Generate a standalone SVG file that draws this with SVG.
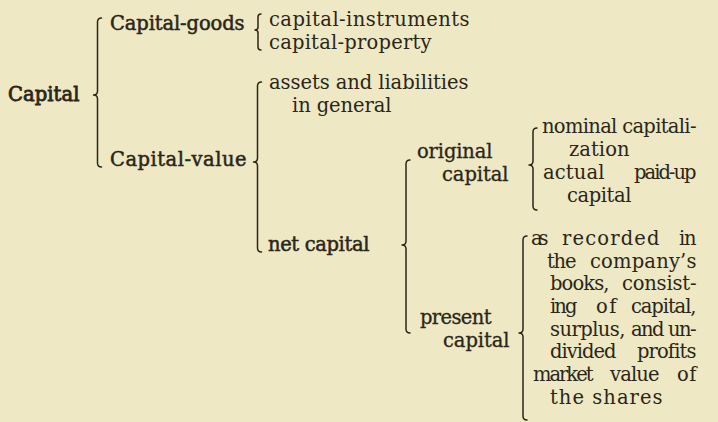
<svg xmlns="http://www.w3.org/2000/svg" width="718" height="422" viewBox="0 0 718 422">
<style>
  text { font-family: "DejaVu Serif", "Liberation Serif", serif; font-size: 19.5px; fill: #2b2619; letter-spacing: 0.5px; }
  .b { stroke: #2b2619; stroke-width: 0.5px; }
  .bb { stroke: #2b2619; stroke-width: 0.8px; }
  .m { stroke: #2b2619; stroke-width: 0.3px; }
  .brace { fill: none; stroke: #2b2619; stroke-width: 1.5; stroke-linecap: round; stroke-linejoin: round; }
</style>
<rect x="0" y="0" width="718" height="422" fill="#EEE8C4"/>
<g id="connectors">
  <path class="brace" d="M101.5,18 Q97.5,18 97.5,22 L97.5,91 Q97.5,95 93.5,95 Q97.5,95 97.5,99 L97.5,163 Q97.5,167 101.5,167"/>
  <path class="brace" d="M261,14 Q258,14 258,17 L258,27 Q258,30 255,30 Q258,30 258,33 L258,47 Q258,50 261,50"/>
  <path class="brace" d="M261.5,82 Q257.5,82 257.5,86 L257.5,158 Q257.5,162 253.5,162 Q257.5,162 257.5,166 L257.5,248 Q257.5,252 261.5,252"/>
  <path class="brace" d="M410,160 Q406,160 406,164 L406,241 Q406,245 402,245 Q406,245 406,249 L406,329 Q406,333 410,333"/>
  <path class="brace" d="M537,128 Q533,128 533,132 L533,161 Q533,165 529,165 Q533,165 533,169 L533,206 Q533,210 537,210"/>
  <path class="brace" d="M527,236 Q523,236 523,240 L523,329 Q523,333 519,333 Q523,333 523,337 L523,416 Q523,420 527,420"/>
</g>
<g id="capital"><text class="bb" x="8" y="101" textLength="72">Capital</text></g>
<g id="capital-goods"><text class="b" x="110" y="30" textLength="135">Capital-goods</text></g>
<g id="capital-instruments"><text x="269" y="25.5" textLength="201">capital-instruments</text></g>
<g id="capital-property"><text x="269" y="48.5" textLength="163">capital-property</text></g>
<g id="capital-value"><text class="b" x="110" y="166" textLength="137">Capital-value</text></g>
<g id="assets"><text x="269" y="89" textLength="200">assets and liabilities</text><text x="292" y="112" textLength="100">in general</text></g>
<g id="net-capital"><text class="b" x="268" y="251" textLength="102">net capital</text></g>
<g id="original-capital"><text class="m" x="417" y="158" textLength="76">original</text><text class="m" x="442" y="181" textLength="67">capital</text></g>
<g id="nominal"><text x="542" y="133" textLength="155">nominal capitali-</text><text x="569" y="156" textLength="61">zation</text></g>
<g id="actual"><text x="543" y="179"><tspan x="543" textLength="62">actual</tspan> <tspan x="634" textLength="63">paid-up</tspan></text><text x="567" y="202" textLength="65">capital</text></g>
<g id="present-capital"><text class="m" x="420" y="324" textLength="72">present</text><text class="m" x="443" y="347" textLength="67">capital</text></g>
<g id="recorded">
  <text x="531" y="245"><tspan x="531" textLength="18">as</tspan> <tspan x="562" textLength="98">recorded</tspan> <tspan x="679" textLength="18">in</tspan></text>
  <text x="547" y="268"><tspan x="547" textLength="30">the</tspan> <tspan x="590" textLength="107">company’s</tspan></text>
  <text x="550" y="290"><tspan x="550" textLength="60">books,</tspan> <tspan x="622" textLength="75">consist-</tspan></text>
  <text x="550" y="313"><tspan x="550" textLength="28">ing</tspan> <tspan x="596" textLength="21">of</tspan> <tspan x="631" textLength="66">capital,</tspan></text>
  <text x="550" y="336"><tspan x="550" textLength="76">surplus,</tspan> <tspan x="631" textLength="34">and</tspan> <tspan x="668" textLength="29">un-</tspan></text>
  <text x="550" y="358"><tspan x="550" textLength="67">divided</tspan> <tspan x="637" textLength="60">profits</tspan></text>
</g>
<g id="market">
  <text x="533" y="381"><tspan x="533" textLength="61">market</tspan> <tspan x="610" textLength="50">value</tspan> <tspan x="677" textLength="20">of</tspan></text>
  <text x="550" y="404" textLength="113">the shares</text>
</g>
</svg>
